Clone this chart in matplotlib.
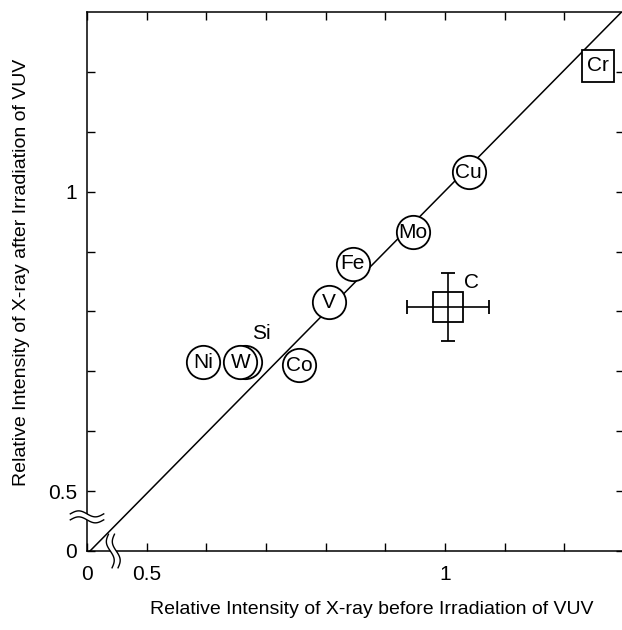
import numpy as np
import matplotlib
matplotlib.use('Agg')
import matplotlib.pyplot as plt

plt.rcParams['font.family'] = ['Liberation Sans', 'DejaVu Sans']

# ── data ───────────────────────────────────────────────────────────────────
elements = ['Ni', 'Si', 'W', 'Co', 'V', 'Fe', 'Mo', 'Cu']
before = [0.595, 0.665, 0.657, 0.755, 0.805, 0.845, 0.946, 1.040]
after = [0.715, 0.715, 0.715, 0.710, 0.815, 0.880, 0.932, 1.032]

cr_before, cr_after = 1.257, 1.210
c_before, c_after = 1.005, 0.807
c_xerr, c_yerr = 0.068, 0.057

# reference line y = x, extrapolated below the axis break
fit_x = [0.405, 1.296]
fit_y = [0.400, 1.300]

tick_vals = [0.5, 0.6, 0.7, 0.8, 0.9, 1.0, 1.1, 1.2]
tick_labels = ['0.5', '', '', '', '', '1', '', '']


def to_u(v):
    # broken axis: 0 .. 0.5 squeezed into 0 .. 0.1
    v = np.asarray(v, dtype=float)
    return np.where(v >= 0.5, v - 0.4, v * 0.2)


def lin_u(v):
    # same offset, without the squeeze (for the straight line)
    return np.asarray(v, dtype=float) - 0.4


fig = plt.figure(figsize=(6.22, 6.30), dpi=100)
ax = fig.add_axes([0.1399, 0.1254, 0.8633, 0.8556])
ax.set_xlim(0, 0.9)
ax.set_ylim(0, 0.9)

ax.plot(lin_u(fit_x), lin_u(fit_y), color='black', lw=1.1, zorder=2)

# circled elements
for el, bx, ay in zip(elements, before, after):
    ax.plot(to_u(bx), to_u(ay), 'o', ms=24, mfc='white', mec='black',
            mew=1.3, zorder=3)
    if el != 'Si':
        ax.text(to_u(bx), to_u(ay), el, ha='center', va='center',
                fontsize=15, zorder=4)
si = elements.index('Si')
ax.annotate('Si', (to_u(before[si]), to_u(after[si])), xytext=(12, 21),
            textcoords='offset points', ha='center', va='center',
            fontsize=15, zorder=4)

# Cr (square)
ax.plot(to_u(cr_before), to_u(cr_after), 's', ms=22.5, mfc='white',
        mec='black', mew=1.3, zorder=3)
ax.text(to_u(cr_before), to_u(cr_after), 'Cr', ha='center', va='center',
        fontsize=15, zorder=4)

# C with error bars
ax.errorbar(to_u(c_before), to_u(c_after), xerr=c_xerr, yerr=c_yerr,
            fmt='s', ms=21, mfc='none', mec='black', mew=1.3,
            ecolor='black', elinewidth=1.2, capsize=5, capthick=1.2,
            zorder=3)
ax.annotate('C', (to_u(c_before), to_u(c_after)), xytext=(17, 18),
            textcoords='offset points', ha='center', va='center',
            fontsize=15, zorder=4)

# ticks
ax.set_xticks(np.concatenate([[0.0], to_u(tick_vals)]))
ax.set_xticklabels(['0'] + tick_labels)
ax.set_yticks(np.concatenate([[0.0], to_u(tick_vals)]))
ax.set_yticklabels(['0'] + tick_labels)
ax.tick_params(direction='in', length=6, width=1.0, top=True, right=True,
               labelsize=15, color='black')
ax.tick_params(axis='x', pad=10)
ax.tick_params(axis='y', pad=7)
for sp in ax.spines.values():
    sp.set_linewidth(1.1)

# axis break marks
t = np.linspace(0, 1, 60)
# y axis break (horizontal waves)
bx = -0.028 + 0.056 * t
by = 0.057 + 0.005 * np.sin(2 * np.pi * t)
ax.fill_between(bx, by - 0.005, by + 0.005, color='white', zorder=5,
                clip_on=False, lw=0)
for off in (-0.005, 0.005):
    ax.plot(bx, by + off, color='black', lw=1.0, clip_on=False, zorder=6)
# x axis break (vertical waves)
wy = -0.028 + 0.056 * t
wx = 0.044 - 0.006 * (t - 0.5) + 0.005 * np.sin(2 * np.pi * t)
ax.fill_betweenx(wy, wx - 0.005, wx + 0.005, color='white', zorder=5,
                 clip_on=False, lw=0)
for off in (-0.005, 0.005):
    ax.plot(wx + off, wy, color='black', lw=1.0, clip_on=False, zorder=6)

fig.text(372 / 622, 1 - 610 / 630,
         'Relative Intensity of X-ray before Irradiation of VUV',
         ha='center', va='center', fontsize=14)
fig.text(22 / 622, 1 - 272 / 630,
         'Relative Intensity of X-ray after Irradiation of VUV',
         ha='center', va='center', rotation=90, fontsize=14)

fig.savefig('out.png', dpi=100)
